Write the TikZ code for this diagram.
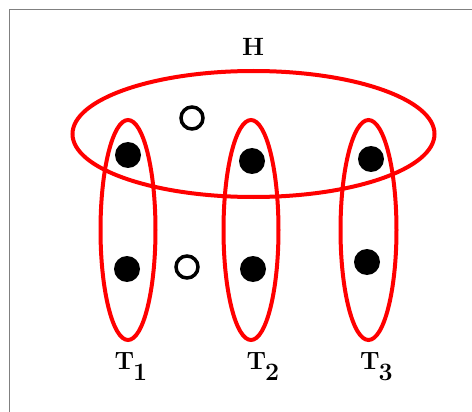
\documentclass[tikz,border=0pt]{standalone}
\usetikzlibrary{shapes.geometric}
\begin{document}
\begin{tikzpicture}[x=1pt,y=-1pt,
  hyper/.style={draw=red,line width=4pt,ellipse,inner sep=0pt},
  fulldot/.style={circle,fill=black,minimum size=26pt,inner sep=0pt},
  opendot/.style={circle,draw=black,line width=3.5pt,fill=white,minimum size=22pt,inner sep=0pt},
  lbl/.style={font=\fontsize{25}{25}\selectfont\bfseries,inner sep=0pt}]
\useasboundingbox (0,0) rectangle (472,412);
\fill[white] (0,0) rectangle (472,412);
\draw[gray,line width=1.5pt] (9.5,412) -- (9.5,9.5) -- (472,9.5);
% hyperedges
\node[hyper,minimum width=362pt,minimum height=126pt] (H) at (253.5,134) {};
\node[hyper,minimum width=55pt,minimum height=220pt] (T1) at (128,230) {};
\node[hyper,minimum width=55pt,minimum height=220pt] (T2) at (251,230) {};
\node[hyper,minimum width=56pt,minimum height=220pt] (T3) at (368.5,230) {};
% vertices
\node[fulldot] (a1) at (128,155) {};
\node[fulldot] (a2) at (127,269) {};
\node[fulldot] (b1) at (252,161) {};
\node[fulldot] (b2) at (253,269) {};
\node[fulldot] (c1) at (371,159) {};
\node[fulldot] (c2) at (367,262) {};
\node[opendot] (o1) at (192,118) {};
\node[opendot] (o2) at (187,267) {};
% labels
\node[lbl,anchor=base] (lH) at (253,56) {H};
\node[lbl,anchor=base] (l1) at (131,369) {T\kern-1pt\raisebox{-11pt}{1}};
\node[lbl,anchor=base] (l2) at (263,369) {T\kern-1pt\raisebox{-11pt}{2}};
\node[lbl,anchor=base] (l3) at (376.5,369) {T\kern-1pt\raisebox{-11pt}{3}};
\end{tikzpicture}
\end{document}
